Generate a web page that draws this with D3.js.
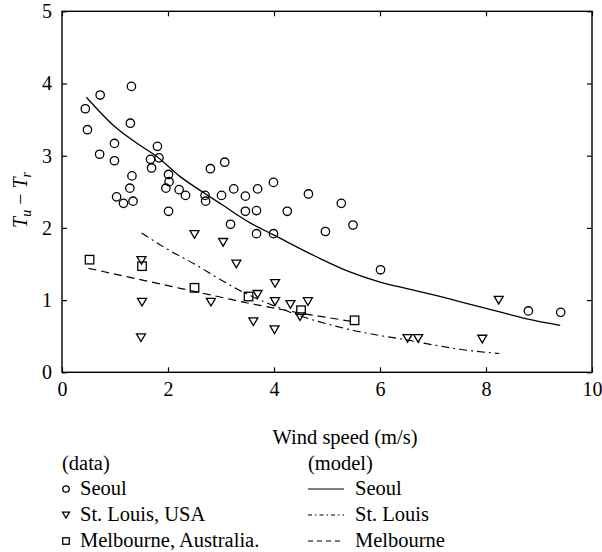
<!DOCTYPE html>
<html>
<head>
<meta charset="utf-8">
<script src="https://cdn.jsdelivr.net/npm/d3@7/dist/d3.min.js"></script>
<style>
  html, body { margin: 0; padding: 0; background: #fff; }
  svg { display: block; }
</style>
</head>
<body>
<svg id="chart" width="602" height="552"></svg>
<script>
// ---------- data ----------
const xTicks = [0, 2, 4, 6, 8, 10];
const yTicks = [0, 1, 2, 3, 4, 5];

const seoulData = [
  [0.44,3.65],[0.48,3.36],[0.72,3.84],[1.31,3.96],[1.29,3.45],[0.71,3.02],[0.99,3.17],[0.99,2.93],
  [1.80,3.13],[1.67,2.95],[1.83,2.97],[1.69,2.83],[1.32,2.72],[2.01,2.74],[2.02,2.64],[1.28,2.55],
  [1.96,2.55],[2.21,2.53],[2.33,2.45],[1.03,2.43],[1.16,2.34],[1.34,2.37],[2.01,2.23],[2.70,2.45],
  [2.71,2.37],[2.80,2.82],[3.07,2.91],[3.01,2.45],[3.24,2.54],[3.46,2.44],[3.69,2.54],[3.18,2.05],
  [3.46,2.23],[3.67,2.24],[3.67,1.92],[3.99,2.63],[4.25,2.23],[3.99,1.92],[4.65,2.47],[5.27,2.34],
  [4.97,1.95],[5.49,2.04],[6.01,1.42],[8.80,0.85],[9.41,0.83]
];
const stLouisData = [
  [1.50,1.55],[1.51,0.97],[1.49,0.48],[2.50,1.91],[2.81,0.97],[3.04,1.80],[3.29,1.50],[3.61,0.70],
  [3.69,1.08],[4.02,1.23],[4.02,0.98],[4.31,0.94],[4.64,0.98],[4.01,0.59],[4.49,0.77],[6.52,0.47],
  [6.72,0.47],[7.93,0.46],[8.24,1.00]
];
const melbourneData = [
  [0.52,1.56],[1.51,1.47],[2.50,1.17],[3.52,1.05],[4.51,0.86],[5.52,0.72]
];

const seoulModel = [
  [0.46,3.81],[1.0,3.40],[1.5,3.13],[1.77,3.0],[2.23,2.71],[2.73,2.46],[3.0,2.33],[3.55,2.07],
  [4.0,1.90],[4.8,1.60],[5.43,1.39],[6.0,1.25],[6.57,1.15],[7.13,1.05],[7.5,0.98],[8.24,0.84],
  [8.77,0.74],[9.4,0.65]
];
const stLouisModel = [
  [1.5,1.93],[2.0,1.70],[2.5,1.50],[3.0,1.28],[3.5,1.08],[4.0,0.92],[4.5,0.78],[5.0,0.67],
  [5.5,0.58],[6.0,0.51],[6.5,0.45],[7.0,0.38],[7.5,0.32],[8.25,0.26]
];
const melbourneModel = [
  [0.5,1.44],[1.0,1.36],[1.5,1.28],[2.0,1.20],[2.5,1.12],[3.0,1.04],[3.5,0.96],[4.0,0.89],
  [4.5,0.82],[5.0,0.76],[5.5,0.70]
];

const dataLabels = ["Seoul", "St. Louis, USA", "Melbourne, Australia."];
const modelLabels = ["Seoul", "St. Louis", "Melbourne"];

// ---------- layout ----------
const FONT = "'Liberation Serif', 'DejaVu Serif', 'Noto Serif', 'Times New Roman', serif";
const svg = d3.select("#chart").attr("font-family", FONT);
const L = 62, R = 592, T = 11.3, B = 372.3;
const x = d3.scaleLinear().domain([0, 10]).range([L, R]);
const y = d3.scaleLinear().domain([0, 5]).range([B, T]);
const FS = 20;
const fmt = d3.format("d");

// axes
const ax = svg.append("g");
const tickLen = 5;
function styleAxis(g) {
  g.attr("font-family", FONT).attr("font-size", FS);
  g.select(".domain").remove();
  g.selectAll(".tick line").attr("stroke", "#000").attr("stroke-width", 1.2);
  g.selectAll(".tick text").attr("fill", "#000").attr("font-family", FONT).attr("font-size", FS);
}
ax.append("g").attr("transform", `translate(0,${B})`)
  .call(d3.axisBottom(x).tickValues(xTicks).tickFormat(fmt).tickSizeInner(-tickLen).tickSizeOuter(0).tickPadding(10))
  .call(styleAxis);
ax.append("g").attr("transform", `translate(0,${T})`)
  .call(d3.axisTop(x).tickValues(xTicks).tickSizeInner(-tickLen).tickSizeOuter(0).tickFormat(""))
  .call(styleAxis);
ax.append("g").attr("transform", `translate(${L},0)`)
  .call(d3.axisLeft(y).tickValues(yTicks).tickFormat(fmt).tickSizeInner(-tickLen).tickSizeOuter(0).tickPadding(10))
  .call(styleAxis);
ax.append("g").attr("transform", `translate(${R},0)`)
  .call(d3.axisRight(y).tickValues(yTicks).tickSizeInner(-tickLen).tickSizeOuter(0).tickFormat(""))
  .call(styleAxis);

svg.append("rect").attr("x", L).attr("y", T).attr("width", R - L).attr("height", B - T)
  .attr("fill", "none").attr("stroke", "#000").attr("stroke-width", 1.4);

// axis titles
svg.append("text").attr("x", 345).attr("y", 444).attr("text-anchor", "middle")
  .attr("font-family", FONT).attr("font-size", 20.5).text("Wind speed (m/s)");

const yl = svg.append("text").attr("transform", `translate(27,${200}) rotate(-90)`)
  .attr("text-anchor", "middle").attr("font-family", FONT).attr("font-size", FS);
yl.append("tspan").attr("font-style", "italic").text("T");
yl.append("tspan").attr("font-style", "italic").attr("font-size", 14).attr("dy", 4).text("u");
yl.append("tspan").attr("dy", -4).text(" \u2212 ");
yl.append("tspan").attr("font-style", "italic").text("T");
yl.append("tspan").attr("font-style", "italic").attr("font-size", 14).attr("dy", 4).text("r");

// ---------- model lines ----------
const line = d3.line().x(d => x(d[0])).y(d => y(d[1])).curve(d3.curveMonotoneX);
const plot = svg.append("g");
plot.append("path").datum(seoulModel).attr("d", line)
  .attr("fill", "none").attr("stroke", "#000").attr("stroke-width", 1.3);
plot.append("path").datum(stLouisModel).attr("d", line)
  .attr("fill", "none").attr("stroke", "#000").attr("stroke-width", 1.1)
  .attr("stroke-dasharray", "8,4,2,4");
plot.append("path").datum(melbourneModel).attr("d", line)
  .attr("fill", "none").attr("stroke", "#000").attr("stroke-width", 1.2)
  .attr("stroke-dasharray", "8,5");

// ---------- markers ----------
function circleM(g, cx, cy, r) {
  g.append("circle").attr("cx", cx).attr("cy", cy).attr("r", r)
    .attr("fill", "none").attr("stroke", "#000").attr("stroke-width", 1.3);
}
function triM(g, cx, cy, s) {
  const h = s * 0.85;
  g.append("path").attr("d", `M${cx - s / 2},${cy - h / 2}L${cx + s / 2},${cy - h / 2}L${cx},${cy + h / 2}Z`)
    .attr("fill", "none").attr("stroke", "#000").attr("stroke-width", 1.3).attr("stroke-linejoin", "miter");
}
function sqM(g, cx, cy, s) {
  g.append("rect").attr("x", cx - s / 2).attr("y", cy - s / 2).attr("width", s).attr("height", s)
    .attr("fill", "none").attr("stroke", "#000").attr("stroke-width", 1.3);
}
const mk = svg.append("g");
seoulData.forEach(d => circleM(mk, x(d[0]), y(d[1]), 4.2));
stLouisData.forEach(d => triM(mk, x(d[0]), y(d[1]), 9));
melbourneData.forEach(d => sqM(mk, x(d[0]), y(d[1]), 8.5));

// ---------- legend ----------
const leg = svg.append("g").attr("font-family", FONT).attr("font-size", 20.5);
const rows = [495, 521, 547];
leg.append("text").attr("x", 62).attr("y", 470).text("(data)");
leg.append("text").attr("x", 308).attr("y", 470).text("(model)");
dataLabels.forEach((t, i) => {
  const cy = rows[i] - 6;
  if (i === 0) circleM(leg, 66, cy, 3.2);
  if (i === 1) triM(leg, 66, cy, 7);
  if (i === 2) sqM(leg, 66, cy, 6.5);
  leg.append("text").attr("x", 80).attr("y", rows[i]).text(t);
});
const dashes = [null, "4,3,1.5,3", "5,4"];
modelLabels.forEach((t, i) => {
  const cy = rows[i] - 6;
  const p = leg.append("line").attr("x1", 308).attr("x2", 344).attr("y1", cy).attr("y2", cy)
    .attr("stroke", "#000").attr("stroke-width", 1.2);
  if (dashes[i]) p.attr("stroke-dasharray", dashes[i]);
  leg.append("text").attr("x", 355).attr("y", rows[i]).text(t);
});
</script>
</body>
</html>
